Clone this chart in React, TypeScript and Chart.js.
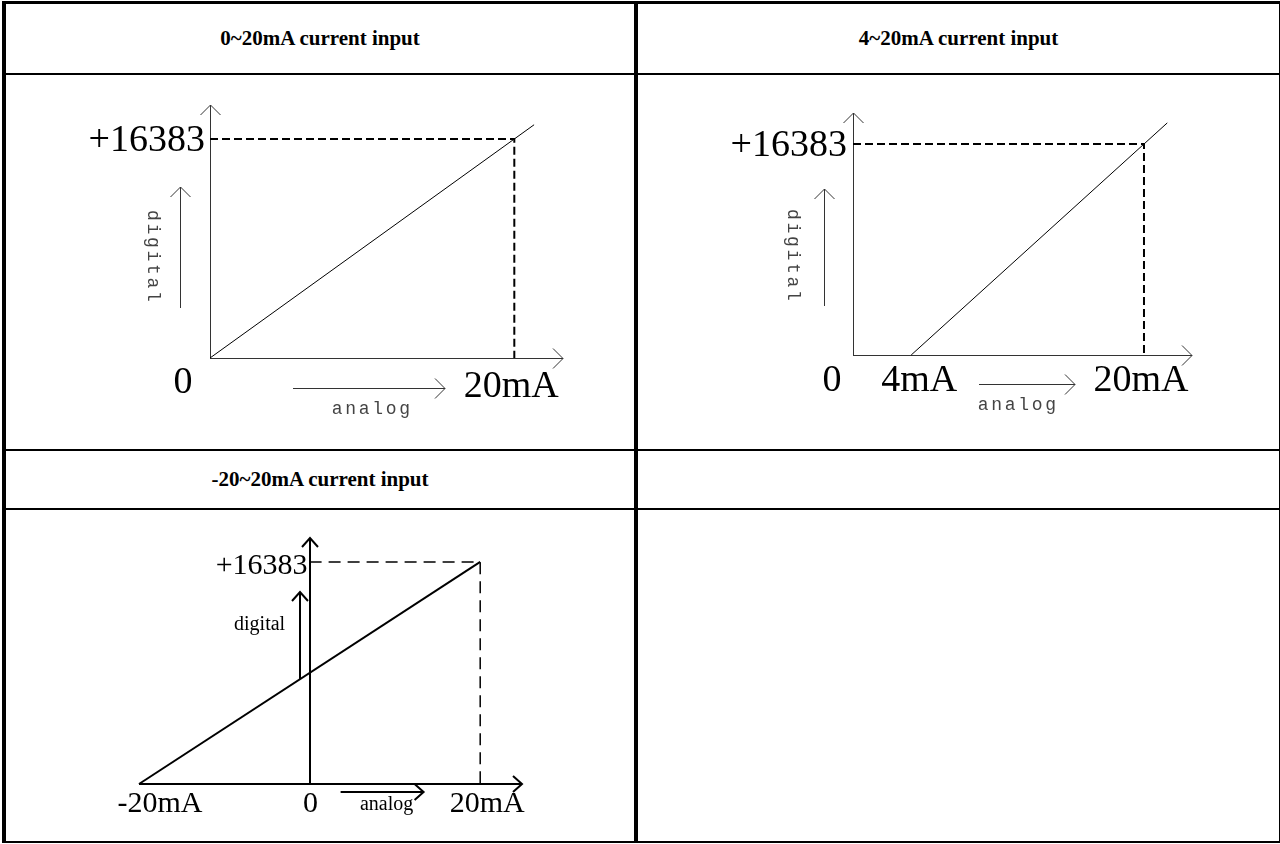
import React, { useEffect, useRef } from "react";
import { Chart, registerables } from "chart.js";

Chart.register(...registerables);

// ---------------- data ----------------
const headerTopLeft = "0~20mA current input";
const headerTopRight = "4~20mA current input";
const headerBottomLeft = "-20~20mA current input";

const yTickText = "+16383";
const yTickValue = 16383;

// 0~20mA current input
const analogA = [0, 20, 21.3];
const digitalA = [0, 16383, 17448];
const guideAnalogA = [0, 20, 20];
const guideDigitalA = [16383, 16383, 0];
const rangeXA = [0, 23.2];
const rangeYA = [0, 18926];
const xTickTextA = ["0", "20mA"];
const xTickValueA = [0, 20];

// 4~20mA current input
const analogB = [4, 20, 21.6];
const digitalB = [0, 16383, 18022];
const guideAnalogB = [0, 20, 20];
const guideDigitalB = [16383, 16383, 0];
const rangeXB = [0, 23.3];
const rangeYB = [0, 18790];
const xTickTextB = ["0", "4mA", "20mA"];
const xTickValueB = [0, 4, 20];

// -20~20mA current input
const analogC = [-20, 20];
const digitalC = [0, 16383];
const guideAnalogC = [0, 20, 20];
const guideDigitalC = [16383, 16383, 0];
const rangeXC = [-20, 24.9];
const rangeYC = [0, 18150];
const xTickTextC = ["-20mA", "0", "20mA"];
const xTickValueC = [-20, 0, 20];

// ---------------- styles ----------------
const SERIF = '"Liberation Serif", "Times New Roman", serif';
const MONO = '"Liberation Mono", "DejaVu Sans Mono", monospace';

type Style = {
  padding: { left: number; top: number; right: number; bottom: number };
  lineWidth: number;
  axisWidth: number;
  axisColor: string;
  guideWidth: number;
  dash: number[];
  arrowBack: number;
  arrowHalf: number;
  bigFont: string;
  tickDx: number[];
  tickDy: number[];
  yTickDx: number;
  yTickDy: number;
  smallFont: string;
  smallColor: string;
  smallPitch: number;
  digitalArrow: number[]; // dx, dyBottom, dyTop (relative to origin)
  digitalText: number[]; // dx, dy, rotate(0/1)
  analogArrow: number[]; // dxStart, dxEnd, dy
  analogText: number[]; // dx, dy
};

const styleA: Style = {
  padding: { left: 204, top: 30, right: 70, bottom: 91 },
  lineWidth: 1,
  axisWidth: 1,
  axisColor: "#333",
  guideWidth: 2,
  dash: [8, 4],
  arrowBack: 10,
  arrowHalf: 10,
  bigFont: `38px ${SERIF}`,
  tickDx: [-27, -3],
  tickDy: [35, 39],
  yTickDx: -5,
  yTickDy: 2,
  smallFont: `18px ${MONO}`,
  smallColor: "#444",
  smallPitch: 13.5,
  digitalArrow: [-30, -50, -171],
  digitalText: [-57, -102, 1],
  analogArrow: [83, 235, 30],
  analogText: [161, 56],
};

const styleB: Style = {
  padding: { left: 215, top: 38, right: 87, bottom: 94 },
  lineWidth: 1,
  axisWidth: 1,
  axisColor: "#333",
  guideWidth: 2,
  dash: [8, 4],
  arrowBack: 10,
  arrowHalf: 10,
  bigFont: `38px ${SERIF}`,
  tickDx: [-21, 8, -3],
  tickDy: [36, 36, 36],
  yTickDx: -6,
  yTickDy: 2,
  smallFont: `18px ${MONO}`,
  smallColor: "#444",
  smallPitch: 13.5,
  digitalArrow: [-29, -49, -166],
  digitalText: [-60, -100, 1],
  analogArrow: [126, 222, 29],
  analogText: [164, 55],
};

const styleC: Style = {
  padding: { left: 133, top: 28, right: 111, bottom: 57 },
  lineWidth: 2,
  axisWidth: 2,
  axisColor: "#000",
  guideWidth: 1.5,
  dash: [12, 7],
  arrowBack: 9,
  arrowHalf: 8,
  bigFont: `30px ${SERIF}`,
  tickDx: [21, 1, 7],
  tickDy: [28, 28, 28],
  yTickDx: -2,
  yTickDy: 4,
  smallFont: `20px ${SERIF}`,
  smallColor: "#000",
  smallPitch: 0,
  digitalArrow: [-10, -105, -192],
  digitalText: [-50, -159, 0],
  analogArrow: [31, 114, 8],
  analogText: [77, 26],
};

// ---------------- drawing helpers ----------------
function snap(v: number, w: number) {
  return w % 2 === 1 ? Math.round(v - 0.5) + 0.5 : Math.round(v);
}

function drawArrow(
  ctx: CanvasRenderingContext2D,
  x0: number,
  y0: number,
  x1: number,
  y1: number,
  back: number,
  half: number
) {
  const len = Math.hypot(x1 - x0, y1 - y0);
  const ux = (x1 - x0) / len;
  const uy = (y1 - y0) / len;
  const nx = -uy;
  const ny = ux;
  ctx.beginPath();
  ctx.moveTo(x0, y0);
  ctx.lineTo(x1, y1);
  ctx.moveTo(x1 - back * ux + half * nx, y1 - back * uy + half * ny);
  ctx.lineTo(x1, y1);
  ctx.lineTo(x1 - back * ux - half * nx, y1 - back * uy - half * ny);
  ctx.stroke();
}

function drawSpaced(ctx: CanvasRenderingContext2D, text: string, cx: number, cy: number, pitch: number) {
  ctx.textAlign = "center";
  if (!pitch) {
    ctx.fillText(text, cx, cy);
    return;
  }
  const start = cx - ((text.length - 1) * pitch) / 2;
  for (let i = 0; i < text.length; i++) ctx.fillText(text[i], start + i * pitch, cy);
}

type Def = {
  analog: number[];
  digital: number[];
  guideAnalog: number[];
  guideDigital: number[];
  rangeX: number[];
  rangeY: number[];
  tickText: string[];
  tickValue: number[];
  style: Style;
};

function makeConfig(d: Def): any {
  const s = d.style;
  const decor = {
    id: "decor",
    beforeDatasetsDraw(chart: any) {
      const { ctx, scales } = chart;
      const xs = scales.x;
      const ys = scales.y;
      const ox = snap(xs.getPixelForValue(0), s.axisWidth);
      const oy = snap(ys.getPixelForValue(d.rangeY[0]), s.axisWidth);
      const xEnd = xs.getPixelForValue(d.rangeX[1]);
      const xStart = xs.getPixelForValue(d.rangeX[0]);
      const yEnd = ys.getPixelForValue(d.rangeY[1]);
      ctx.save();
      ctx.strokeStyle = s.axisColor;
      ctx.lineWidth = s.axisWidth;
      ctx.lineCap = "butt";
      ctx.lineJoin = "miter";
      drawArrow(ctx, xStart, oy, xEnd, oy, s.arrowBack, s.arrowHalf);
      drawArrow(ctx, ox, oy, ox, yEnd, s.arrowBack, s.arrowHalf);
      ctx.restore();
    },
    afterDatasetsDraw(chart: any) {
      const { ctx, scales } = chart;
      const xs = scales.x;
      const ys = scales.y;
      const ox = xs.getPixelForValue(0);
      const oy = ys.getPixelForValue(d.rangeY[0]);
      ctx.save();
      ctx.fillStyle = "#000";
      ctx.font = s.bigFont;
      ctx.textBaseline = "alphabetic";
      ctx.textAlign = "center";
      d.tickText.forEach((t, i) => {
        ctx.fillText(t, xs.getPixelForValue(d.tickValue[i]) + s.tickDx[i], oy + s.tickDy[i]);
      });
      ctx.textAlign = "right";
      ctx.textBaseline = "middle";
      ctx.fillText(yTickText, ox + s.yTickDx, ys.getPixelForValue(yTickValue) + s.yTickDy);

      // direction arrows
      ctx.strokeStyle = s.axisColor;
      ctx.lineWidth = s.axisWidth;
      const da = s.digitalArrow;
      const dxp = snap(ox + da[0], s.axisWidth);
      drawArrow(ctx, dxp, oy + da[1], dxp, oy + da[2], s.arrowBack, s.arrowHalf);
      const aa = s.analogArrow;
      const ayp = snap(oy + aa[2], s.axisWidth);
      drawArrow(ctx, ox + aa[0], ayp, ox + aa[1], ayp, s.arrowBack, s.arrowHalf);

      // small captions
      ctx.fillStyle = s.smallColor;
      ctx.font = s.smallFont;
      ctx.textBaseline = "middle";
      const dt = s.digitalText;
      ctx.save();
      ctx.translate(ox + dt[0], oy + dt[1]);
      if (dt[2]) ctx.rotate(Math.PI / 2);
      drawSpaced(ctx, "digital", 0, 0, s.smallPitch);
      ctx.restore();
      ctx.textBaseline = "alphabetic";
      drawSpaced(ctx, "analog", ox + s.analogText[0], oy + s.analogText[1], s.smallPitch);
      ctx.restore();
    },
  };
  return {
    type: "scatter",
    data: {
      datasets: [
        {
          data: d.guideAnalog.map((x, i) => ({ x, y: d.guideDigital[i] })),
          showLine: true,
          borderColor: "#000",
          borderWidth: s.guideWidth,
          borderDash: s.dash,
          pointRadius: 0,
          clip: false,
          tension: 0,
        },
        {
          data: d.analog.map((x, i) => ({ x, y: d.digital[i] })),
          showLine: true,
          borderColor: "#000",
          borderWidth: s.lineWidth,
          pointRadius: 0,
          clip: false,
          tension: 0,
        },
      ],
    },
    options: {
      responsive: false,
      animation: false,
      events: [],
      layout: { padding: s.padding },
      plugins: { legend: { display: false }, tooltip: { enabled: false }, title: { display: false } },
      scales: {
        x: { type: "linear", display: false, min: d.rangeX[0], max: d.rangeX[1] },
        y: { type: "linear", display: false, min: d.rangeY[0], max: d.rangeY[1] },
      },
    },
    plugins: [decor],
  };
}

function Diagram(props: { left: number; top: number; width: number; height: number; def: Def }) {
  const ref = useRef<HTMLCanvasElement>(null);
  useEffect(() => {
    const chart = new Chart(ref.current as HTMLCanvasElement, makeConfig(props.def));
    return () => chart.destroy();
  }, []);
  return (
    <canvas
      ref={ref}
      width={props.width}
      height={props.height}
      style={{ position: "absolute", left: props.left, top: props.top, width: props.width, height: props.height }}
    />
  );
}

function Rule(props: { l: number; t: number; w: number; h: number }) {
  return (
    <div style={{ position: "absolute", left: props.l, top: props.t, width: props.w, height: props.h, background: "#000" }} />
  );
}

function Header(props: { l: number; t: number; w: number; h: number; text: string }) {
  return (
    <div
      style={{
        position: "absolute",
        left: props.l,
        top: props.t,
        width: props.w,
        height: props.h,
        display: "flex",
        alignItems: "center",
        justifyContent: "center",
        fontFamily: SERIF,
        fontWeight: "bold",
        fontSize: 21,
        color: "#000",
      }}
    >
      {props.text}
    </div>
  );
}

export default function App() {
  const defA: Def = {
    analog: analogA, digital: digitalA, guideAnalog: guideAnalogA, guideDigital: guideDigitalA,
    rangeX: rangeXA, rangeY: rangeYA, tickText: xTickTextA, tickValue: xTickValueA, style: styleA,
  };
  const defB: Def = {
    analog: analogB, digital: digitalB, guideAnalog: guideAnalogB, guideDigital: guideDigitalB,
    rangeX: rangeXB, rangeY: rangeYB, tickText: xTickTextB, tickValue: xTickValueB, style: styleB,
  };
  const defC: Def = {
    analog: analogC, digital: digitalC, guideAnalog: guideAnalogC, guideDigital: guideDigitalC,
    rangeX: rangeXC, rangeY: rangeYC, tickText: xTickTextC, tickValue: xTickValueC, style: styleC,
  };
  return (
    <div style={{ position: "absolute", left: 0, top: 0, width: 1280, height: 844, background: "#fff", overflow: "hidden" }}>
      <Header l={6} t={4} w={628} h={69} text={headerTopLeft} />
      <Header l={638} t={4} w={641} h={69} text={headerTopRight} />
      <Header l={6} t={451} w={628} h={57} text={headerBottomLeft} />

      <Diagram left={6} top={75} width={627} height={374} def={defA} />
      <Diagram left={638} top={75} width={641} height={374} def={defB} />
      <Diagram left={6} top={510} width={627} height={331} def={defC} />

      <Rule l={2} t={1} w={1278} h={3} />
      <Rule l={2} t={1} w={4} h={842} />
      <Rule l={1279} t={1} w={1} h={842} />
      <Rule l={2} t={841} w={1278} h={2} />
      <Rule l={634} t={1} w={4} h={842} />
      <Rule l={2} t={73} w={1278} h={2} />
      <Rule l={2} t={449} w={1278} h={2} />
      <Rule l={2} t={508} w={1278} h={2} />
    </div>
  );
}
